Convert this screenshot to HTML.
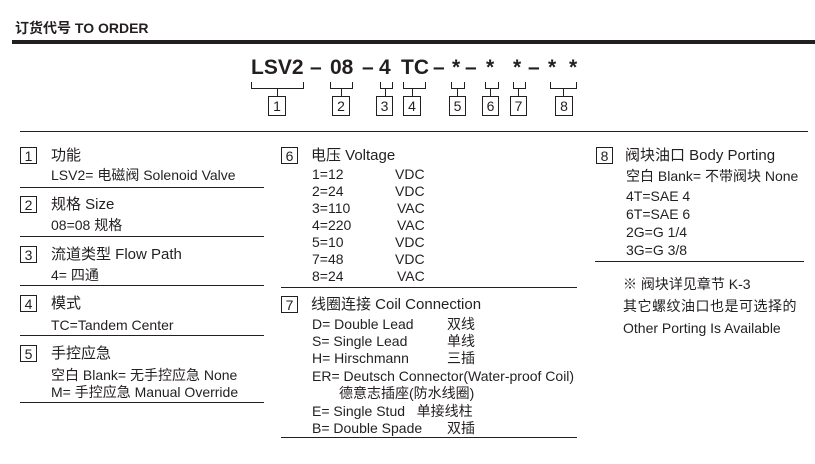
<!DOCTYPE html>
<html><head><meta charset="utf-8"><style>
body{margin:0;width:815px;height:464px;background:#fff;position:relative;overflow:hidden;font-family:"Liberation Sans","Noto Sans CJK SC",sans-serif;color:#231f20}
.a{position:absolute;white-space:nowrap;line-height:1}
.t{font-size:15px}
.b{font-size:14px}
.box{position:absolute;width:17px;height:17px;border:1px solid #231f20;box-sizing:border-box;font-size:14px;text-align:center;line-height:16px}
.hl{position:absolute;height:1px;background:#231f20}
.code{position:absolute;top:57px;font-size:21px;font-weight:bold;line-height:1}
</style></head><body>
<div class="a" style="left:15px;top:21px;font-size:14px;font-weight:bold">订货代号 TO ORDER</div>
<div class="hl" style="left:12px;top:40px;width:803px;height:4px"></div>

<div class="code" style="left:251px">LSV2</div>
<div class="code" style="left:310px">–</div>
<div class="code" style="left:330px">08</div>
<div class="code" style="left:362px">–</div>
<div class="code" style="left:379px">4</div>
<div class="code" style="left:401px">TC</div>
<div class="code" style="left:433px">–</div>
<div class="code" style="left:452px">*</div>
<div class="code" style="left:465px">–</div>
<div class="code" style="left:486px">*</div>
<div class="code" style="left:513px">*</div>
<div class="code" style="left:528px">–</div>
<div class="code" style="left:548px">*</div>
<div class="code" style="left:569px">*</div>

<svg class="a" style="left:0;top:0" width="815" height="130" stroke="#231f20" stroke-width="1" fill="none">
<path d="M251.5 82v6.5h52v-6.5M277.5 88v8"/>
<path d="M330.5 82v6.5h22v-6.5M341.5 88v8"/>
<path d="M380.5 82v6.5h12v-6.5M385.5 88v8"/>
<path d="M403.5 82v6.5h22v-6.5M412.5 88v8"/>
<path d="M451.5 82v6.5h13v-6.5M457.5 88v8"/>
<path d="M485.5 82v6.5h13v-6.5M490.5 88v8"/>
<path d="M513.5 82v6.5h12v-6.5M518.5 88v8"/>
<path d="M550.5 82v6.5h26v-6.5M563.5 88v8"/>
</svg>
<div class="box" style="left:268px;top:96px;width:18px;height:20px;line-height:19px">1</div>
<div class="box" style="left:332px;top:96px;width:18px;height:20px;line-height:19px">2</div>
<div class="box" style="left:376px;top:96px;width:17px;height:20px;line-height:19px">3</div>
<div class="box" style="left:403px;top:96px;width:18px;height:20px;line-height:19px">4</div>
<div class="box" style="left:449px;top:96px;width:17px;height:20px;line-height:19px">5</div>
<div class="box" style="left:482px;top:96px;width:17px;height:20px;line-height:19px">6</div>
<div class="box" style="left:510px;top:96px;width:17px;height:20px;line-height:19px">7</div>
<div class="box" style="left:555px;top:96px;width:18px;height:20px;line-height:19px">8</div>

<div class="hl" style="left:20px;top:131px;width:788px"></div>

<!-- left -->
<div class="box" style="left:20px;top:147px">1</div>
<div class="a t" style="left:51px;top:148px">功能</div>
<div class="a b" style="left:51px;top:168px">LSV2= 电磁阀 Solenoid Valve</div>
<div class="hl" style="left:20px;top:187px;width:244px"></div>
<div class="box" style="left:20px;top:196px">2</div>
<div class="a t" style="left:51px;top:197px">规格 Size</div>
<div class="a b" style="left:51px;top:218px">08=08 规格</div>
<div class="hl" style="left:20px;top:236px;width:244px"></div>
<div class="box" style="left:20px;top:246px">3</div>
<div class="a t" style="left:51px;top:247px">流道类型 Flow Path</div>
<div class="a b" style="left:51px;top:268px">4= 四通</div>
<div class="hl" style="left:20px;top:285px;width:244px"></div>
<div class="box" style="left:20px;top:295px">4</div>
<div class="a t" style="left:51px;top:296px">模式</div>
<div class="a b" style="left:51px;top:318px">TC=Tandem Center</div>
<div class="hl" style="left:20px;top:335px;width:244px"></div>
<div class="box" style="left:20px;top:345px">5</div>
<div class="a t" style="left:51px;top:346px">手控应急</div>
<div class="a b" style="left:51px;top:368px">空白 Blank= 无手控应急 None</div>
<div class="a b" style="left:51px;top:385px">M= 手控应急 Manual Override</div>
<div class="hl" style="left:20px;top:402px;width:244px"></div>

<!-- middle -->
<div class="box" style="left:281px;top:147px">6</div>
<div class="a t" style="left:311px;top:148px">电压 Voltage</div>
<div class="a b" style="left:312px;top:167px">1=12</div><div class="a b" style="left:395px;top:167px">VDC</div>
<div class="a b" style="left:312px;top:184px">2=24</div><div class="a b" style="left:395px;top:184px">VDC</div>
<div class="a b" style="left:312px;top:201px">3=110</div><div class="a b" style="left:397px;top:201px">VAC</div>
<div class="a b" style="left:312px;top:218px">4=220</div><div class="a b" style="left:397px;top:218px">VAC</div>
<div class="a b" style="left:312px;top:235px">5=10</div><div class="a b" style="left:395px;top:235px">VDC</div>
<div class="a b" style="left:312px;top:252px">7=48</div><div class="a b" style="left:395px;top:252px">VDC</div>
<div class="a b" style="left:312px;top:269px">8=24</div><div class="a b" style="left:397px;top:269px">VAC</div>
<div class="hl" style="left:281px;top:287px;width:296px"></div>
<div class="box" style="left:281px;top:296px">7</div>
<div class="a t" style="left:311px;top:297px">线圈连接 Coil Connection</div>
<div class="a b" style="left:312px;top:317px">D= Double Lead</div><div class="a b" style="left:447px;top:317px">双线</div>
<div class="a b" style="left:312px;top:334px">S= Single Lead</div><div class="a b" style="left:447px;top:334px">单线</div>
<div class="a b" style="left:312px;top:351px">H= Hirschmann</div><div class="a b" style="left:447px;top:351px">三插</div>
<div class="a b" style="left:312px;top:369px">ER= Deutsch Connector(Water-proof Coil)</div>
<div class="a b" style="left:339px;top:386px">德意志插座(防水线圈)</div>
<div class="a b" style="left:312px;top:404px">E= Single Stud&nbsp;&nbsp; 单接线柱</div>
<div class="a b" style="left:312px;top:421px">B= Double Spade</div><div class="a b" style="left:447px;top:421px">双插</div>
<div class="hl" style="left:281px;top:437px;width:296px"></div>

<!-- right -->
<div class="box" style="left:596px;top:147px">8</div>
<div class="a t" style="left:625px;top:148px">阀块油口 Body Porting</div>
<div class="a b" style="left:626px;top:169px">空白 Blank= 不带阀块 None</div>
<div class="a b" style="left:626px;top:189px">4T=SAE 4</div>
<div class="a b" style="left:626px;top:207px">6T=SAE 6</div>
<div class="a b" style="left:626px;top:225px">2G=G 1/4</div>
<div class="a b" style="left:626px;top:243px">3G=G 3/8</div>
<div class="hl" style="left:595px;top:261px;width:209px"></div>
<div class="a b" style="left:623px;top:277px">※ 阀块详见章节 K-3</div>
<div class="a b" style="left:623px;top:299px;letter-spacing:0.5px">其它螺纹油口也是可选择的</div>
<div class="a b" style="left:623px;top:321px">Other Porting Is Available</div>
</body></html>
